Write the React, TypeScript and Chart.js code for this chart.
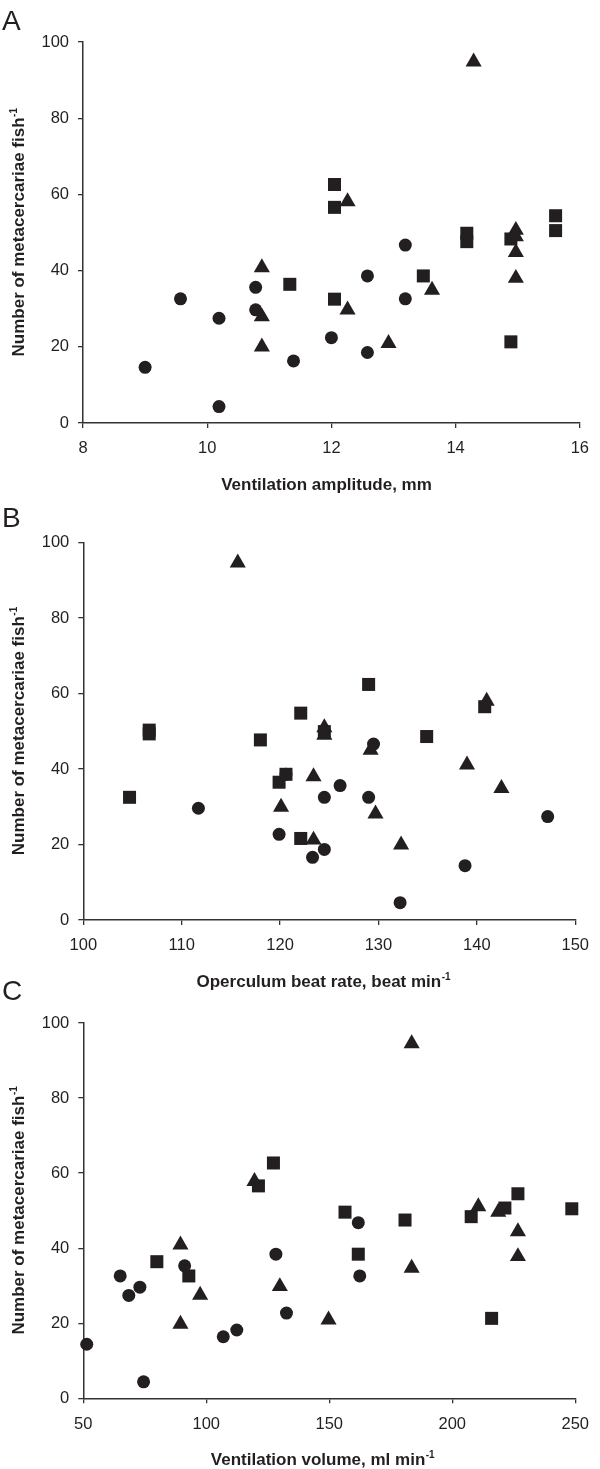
import React, { useEffect, useRef } from 'react';
import { Chart, registerables } from 'chart.js';

Chart.register(...registerables);

// ---------- Data ----------
// Panel A: ventilation amplitude (mm)
const ampCircleX = [9.0, 9.57, 10.19, 10.19, 10.78, 10.78, 11.39, 12.0, 12.58, 12.58, 13.19, 13.19];
const ampCircleY = [14.6, 32.6, 27.5, 4.3, 35.6, 29.7, 16.3, 22.4, 38.6, 18.5, 46.7, 32.6];
const ampSquareX = [11.33, 12.05, 12.05, 12.05, 13.48, 14.18, 14.18, 14.89, 14.89, 15.61, 15.61];
const ampSquareY = [36.4, 32.5, 62.6, 56.6, 38.6, 49.8, 47.6, 48.3, 21.3, 54.4, 50.5];
const ampTriangleX = [10.88, 10.88, 10.88, 12.26, 12.26, 12.92, 13.62, 14.29, 14.97, 14.97, 14.97, 14.97];
const ampTriangleY = [40.8, 27.9, 20.0, 29.7, 58.1, 20.9, 34.9, 94.8, 50.6, 48.9, 44.8, 38.0];

// Panel B: operculum beat rate (beat min-1)
const rateCircleX = [129.5, 126.1, 124.5, 129.0, 111.7, 147.2, 119.9, 124.5, 123.3, 138.8, 132.2, 120.6];
const rateCircleY = [46.6, 35.6, 32.5, 32.5, 29.6, 27.4, 22.7, 18.7, 16.6, 14.4, 4.6, 38.6];
const rateSquareX = [129.0, 122.1, 140.8, 106.7, 106.7, 118.0, 134.9, 124.5, 120.6, 119.9, 104.7, 122.1];
const rateSquareY = [62.4, 54.8, 56.5, 50.3, 49.3, 47.7, 48.6, 49.9, 38.6, 36.5, 32.5, 21.6];
const rateTriangleX = [115.7, 141.0, 124.5, 124.5, 129.2, 139.0, 123.4, 142.5, 120.1, 129.7, 123.4, 132.3];
const rateTriangleY = [94.6, 58.0, 51.0, 49.0, 45.0, 41.1, 38.0, 34.9, 29.9, 28.1, 21.2, 19.9];

// Panel C: ventilation volume (ml min-1)
const volCircleX = [161.8, 128.3, 91.2, 162.4, 65.0, 68.5, 73.0, 132.6, 112.4, 106.9, 51.4, 74.5];
const volCircleY = [46.8, 38.4, 35.3, 32.6, 32.6, 27.4, 29.6, 22.7, 18.2, 16.4, 14.4, 4.4];
const volSquareX = [127.3, 121.2, 156.4, 180.8, 207.7, 221.4, 226.7, 248.6, 79.9, 92.9, 161.8, 216.0];
const volSquareY = [62.7, 56.6, 49.6, 47.5, 48.4, 50.7, 54.5, 50.5, 36.4, 32.6, 38.4, 21.3];
const volTriangleX = [183.5, 119.6, 210.6, 218.7, 226.7, 226.7, 89.5, 183.5, 97.5, 129.9, 149.7, 89.5];
const volTriangleY = [94.5, 57.8, 51.1, 49.6, 44.4, 37.8, 40.9, 34.7, 27.5, 29.8, 20.9, 19.8];

const yTitleText = 'Number of metacercariae fish';
const yTitleSup = '-1';

// ---------- Styling ----------
const FONT = '"Liberation Sans", Arial, Helvetica, sans-serif';
const INK = '#231f20';
const AXIS = '#333333';
const CANVAS_H = 500;

type Panel = {
  letter: string;
  xTitle: string;
  xSup: string;
  xMin: number;
  xMax: number;
  xStep: number;
  circles: [number[], number[]];
  squares: [number[], number[]];
  triangles: [number[], number[]];
  canvasTop: number;
  plotTop: number;
  plotBottom: number;
  plotLeft: number;
  plotRight: number;
  letterBaseline: number;
};

const panels: Panel[] = [
  {
    letter: 'A', xTitle: 'Ventilation amplitude, mm', xSup: '',
    xMin: 8, xMax: 16, xStep: 2,
    circles: [ampCircleX, ampCircleY], squares: [ampSquareX, ampSquareY], triangles: [ampTriangleX, ampTriangleY],
    canvasTop: 0, plotTop: 42, plotBottom: 423, plotLeft: 83, plotRight: 590, letterBaseline: 30,
  },
  {
    letter: 'B', xTitle: 'Operculum beat rate, beat min', xSup: '-1',
    xMin: 100, xMax: 150, xStep: 10,
    circles: [rateCircleX, rateCircleY], squares: [rateSquareX, rateSquareY], triangles: [rateTriangleX, rateTriangleY],
    canvasTop: 495, plotTop: 542.5, plotBottom: 920, plotLeft: 83.3, plotRight: 583.3, letterBaseline: 527,
  },
  {
    letter: 'C', xTitle: 'Ventilation volume, ml min', xSup: '-1',
    xMin: 50, xMax: 250, xStep: 50,
    circles: [volCircleX, volCircleY], squares: [volSquareX, volSquareY], triangles: [volTriangleX, volTriangleY],
    canvasTop: 969, plotTop: 1023, plotBottom: 1398.3, plotLeft: 83.3, plotRight: 581.7, letterBaseline: 1000,
  },
];

function pts(xs: number[], ys: number[]) {
  return xs.map((x, i) => ({ x, y: ys[i] }));
}

function drawWithSup(ctx: CanvasRenderingContext2D, main: string, sup: string, cx: number, cy: number, size: number) {
  const mainFont = `bold ${size}px ${FONT}`;
  const supFont = `bold ${Math.round(size * 0.6)}px ${FONT}`;
  ctx.font = mainFont;
  const w1 = ctx.measureText(main).width;
  ctx.font = supFont;
  const w2 = sup ? ctx.measureText(sup).width : 0;
  const x0 = cx - (w1 + w2) / 2;
  ctx.textAlign = 'left';
  ctx.textBaseline = 'alphabetic';
  const base = cy + size * 0.36;
  ctx.font = mainFont;
  ctx.fillText(main, x0, base);
  if (sup) {
    ctx.font = supFont;
    ctx.fillText(sup, x0 + w1 + 0.5, base - size * 0.42);
  }
}

const textPlugin = {
  id: 'panelText',
  afterDraw(chart: any, _args: any, opts: any) {
    const ctx: CanvasRenderingContext2D = chart.ctx;
    const p: Panel = opts.panel;
    const off = p.canvasTop;
    ctx.save();
    ctx.fillStyle = INK;
    // panel letter
    ctx.font = `28px ${FONT}`;
    ctx.textAlign = 'left';
    ctx.textBaseline = 'alphabetic';
    ctx.fillText(p.letter, 2, p.letterBaseline - off);
    // x title
    const xc = (p.plotLeft + p.plotRight) / 2 - 10;
    drawWithSup(ctx, p.xTitle, p.xSup, xc, p.plotBottom + 61 - off, 17);
    // y title
    ctx.save();
    ctx.translate(18, (p.plotTop + p.plotBottom) / 2 - off);
    ctx.rotate(-Math.PI / 2);
    drawWithSup(ctx, yTitleText, yTitleSup, 0, 0, 17);
    ctx.restore();
    ctx.restore();
  },
};

function makeConfig(p: Panel): any {
  const common = { backgroundColor: INK, borderColor: INK, pointBorderWidth: 0, clip: false, showLine: false };
  return {
    type: 'scatter',
    data: {
      datasets: [
        { label: 'circle', data: pts(p.circles[0], p.circles[1]), pointStyle: 'circle', pointRadius: 6.5, ...common },
        { label: 'square', data: pts(p.squares[0], p.squares[1]), pointStyle: 'rect', pointRadius: 9.2, ...common },
        { label: 'triangle', data: pts(p.triangles[0], p.triangles[1]), pointStyle: 'triangle', pointRadius: 9.3, ...common },
      ],
    },
    options: {
      responsive: false,
      animation: false,
      devicePixelRatio: 1,
      layout: {
        padding: { left: 0, top: p.plotTop - p.canvasTop, right: 600 - p.plotRight, bottom: 0 },
      },
      plugins: {
        legend: { display: false },
        tooltip: { enabled: false },
        panelText: { panel: p },
      },
      scales: {
        x: {
          type: 'linear',
          min: p.xMin,
          max: p.xMax,
          afterFit: (s: any) => { s.height = p.canvasTop + CANVAS_H - p.plotBottom; },
          ticks: {
            stepSize: p.xStep,
            color: INK,
            padding: 11,
            maxRotation: 0,
            font: { family: FONT, size: 16.5 },
          },
          grid: { display: true, drawOnChartArea: false, drawTicks: true, tickLength: 5, color: AXIS, lineWidth: 1.3 },
          border: { display: true, color: AXIS, width: 1.5 },
        },
        y: {
          type: 'linear',
          min: 0,
          max: 100,
          afterFit: (s: any) => { s.width = p.plotLeft; },
          ticks: {
            stepSize: 20,
            color: INK,
            padding: 9,
            font: { family: FONT, size: 16.5 },
          },
          grid: { display: true, drawOnChartArea: false, drawTicks: true, tickLength: 5, color: AXIS, lineWidth: 1.3 },
          border: { display: true, color: AXIS, width: 1.5 },
        },
      },
    },
    plugins: [textPlugin],
  };
}

function PanelChart({ panel }: { panel: Panel }) {
  const ref = useRef<HTMLCanvasElement>(null);
  useEffect(() => {
    const chart = new Chart(ref.current as HTMLCanvasElement, makeConfig(panel));
    return () => chart.destroy();
  }, [panel]);
  return (
    <canvas
      ref={ref}
      width={600}
      height={CANVAS_H}
      style={{ position: 'absolute', left: 0, top: panel.canvasTop, width: 600, height: CANVAS_H }}
    />
  );
}

export default function App() {
  return (
    <div style={{ position: 'absolute', left: 0, top: 0, width: 600, height: 1469, background: '#ffffff', overflow: 'hidden' }}>
      {panels.map((p) => (
        <PanelChart key={p.letter} panel={p} />
      ))}
    </div>
  );
}
